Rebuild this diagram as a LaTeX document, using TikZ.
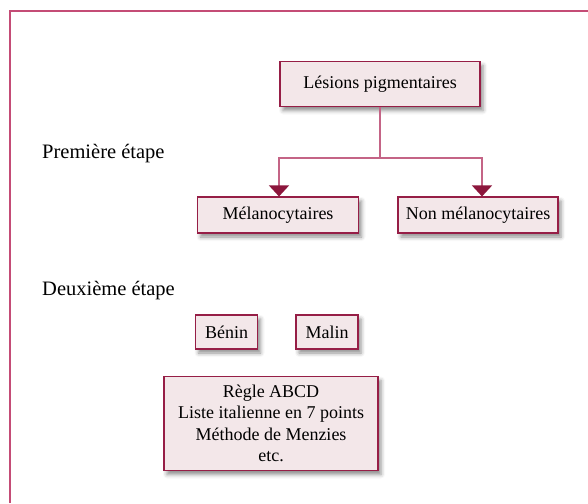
\documentclass[tikz,border=0pt]{standalone}
\usepackage{fontspec}
\setmainfont{Liberation Serif}
\usetikzlibrary{shadows.blur,arrows.meta}
\definecolor{frameC}{RGB}{196,76,118}
\definecolor{boxborder}{RGB}{150,30,70}
\definecolor{boxfill}{RGB}{243,231,233}
\definecolor{linkC}{RGB}{196,100,134}
\definecolor{tipC}{RGB}{140,22,60}
\tikzset{
  box/.style={draw=boxborder, line width=1.1pt, fill=boxfill, inner sep=0pt,
    font=\fontsize{18}{21.5}\selectfont, align=center,
    blur shadow={shadow xshift=3pt, shadow yshift=-4pt, shadow blur radius=4pt,
      shadow opacity=45}},
  stagelabel/.style={anchor=base west, inner sep=0pt, font=\fontsize{20.5}{24}\selectfont},
  link/.style={draw=linkC, line width=1.2pt},
  linkarrow/.style={link, -{Triangle[width=20pt,length=11pt,fill=tipC,color=tipC]}}
}
\begin{document}
\begin{tikzpicture}[x=1pt,y=-1pt]
\useasboundingbox (0,0) rectangle (588,503);
% frame (top and left sides)
\draw[frameC, line width=1.8pt] (10,503) -- (10,11) -- (588,11);

\node[box, minimum width=200pt, minimum height=45pt] (les) at (380,84) {Lésions pigmentaires};
\node[box, minimum width=161pt, minimum height=36pt] (mel) at (278,215) {Mélanocytaires};
\node[box, minimum width=160pt, minimum height=36pt] (non) at (478,215) {Non mélanocytaires};
\node[box, minimum width=62pt, minimum height=34pt] (ben) at (226.5,332) {Bénin};
\node[box, minimum width=62pt, minimum height=34pt] (mal) at (327,332) {Malin};
\node[box, minimum width=214pt, minimum height=94pt] (abcd) at (271,423.5)
  {Règle ABCD\\Liste italienne en 7 points\\Méthode de Menzies\\etc.};

\node[stagelabel] (e1) at (42,158) {Première étape};
\node[stagelabel] (e2) at (42,295) {Deuxième étape};

\coordinate (junc) at (les.south |- 0,158);
\draw[link] (les.south) -- (junc);
\draw[linkarrow] (junc) -| ([xshift=1pt]mel.north);
\draw[linkarrow] (junc) -| ([xshift=4pt]non.north);
\end{tikzpicture}
\end{document}
